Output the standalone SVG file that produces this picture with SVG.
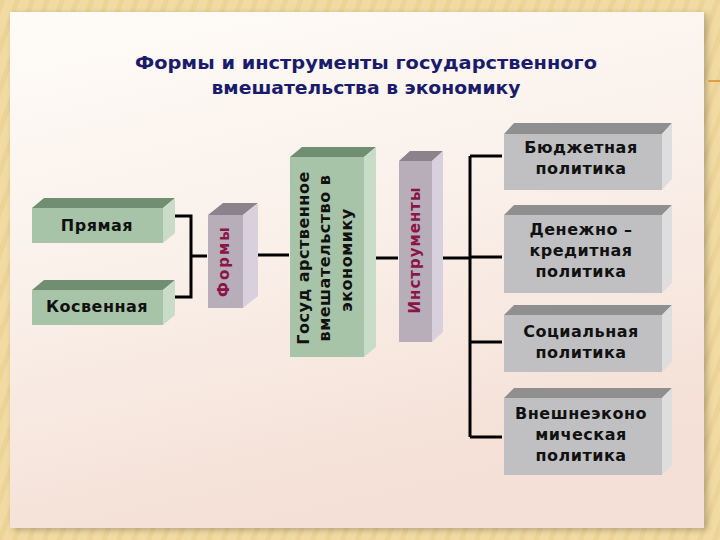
<svg xmlns="http://www.w3.org/2000/svg" width="720" height="540" viewBox="0 0 720 540">
<defs>
  <linearGradient id="panel" x1="0" y1="0" x2="0.3" y2="1">
    <stop offset="0" stop-color="#fefcf8"/>
    <stop offset="0.5" stop-color="#faf0ea"/>
    <stop offset="1" stop-color="#f4e0d6"/>
  </linearGradient>
  <pattern id="wood" width="14" height="14" patternUnits="userSpaceOnUse" patternTransform="rotate(20)">
    <rect width="14" height="14" fill="#f1dba3"/>
    <rect width="5" height="14" fill="#ecd397"/>
  </pattern>
  <filter id="sh" x="-5%" y="-5%" width="110%" height="110%">
    <feGaussianBlur in="SourceAlpha" stdDeviation="3"/>
    <feOffset dx="3" dy="2"/>
    <feComponentTransfer><feFuncA type="linear" slope="0.25"/></feComponentTransfer>
    <feMerge><feMergeNode/><feMergeNode in="SourceGraphic"/></feMerge>
  </filter>
</defs>
<style>
  .t { font-family: "DejaVu Sans", Verdana, sans-serif; font-weight: bold; }
  .title { fill: #1b1b6b; font-size: 18px; text-anchor: middle; }
  .lbl { fill: #111111; font-size: 16px; text-anchor: middle; letter-spacing: 0.5px; }
  .vlbl { fill: #111111; font-size: 16px; text-anchor: middle; letter-spacing: 0.5px; }
  .mag { fill: #8a1546; font-size: 15px; text-anchor: middle; }
  .gf { fill: #a8c4a8; } .gt { fill: #708e72; } .gs { fill: #c8dcc8; }
  .pf { fill: #b7aeb9; } .pt { fill: #8b828c; } .ps { fill: #d8d0dc; }
  .sf { fill: #c0c0c2; } .st { fill: #8f8f90; } .ss { fill: #dedede; }
  .conn path { fill: none; stroke: #000000; stroke-width: 3; }
</style>

<rect x="0" y="0" width="720" height="540" fill="url(#wood)"/>
<rect x="10" y="12" width="694" height="516" fill="url(#panel)" filter="url(#sh)"/>
<line x1="708" y1="81" x2="720" y2="81" stroke="#e0a040" stroke-width="2"/>

<g id="title">
  <text class="t title" x="366" y="69" textLength="462" lengthAdjust="spacingAndGlyphs">Формы и инструменты государственного</text>
  <text class="t title" x="366" y="94" textLength="309" lengthAdjust="spacingAndGlyphs">вмешательства в экономику</text>
</g>

<g class="conn" id="connectors">
  <path d="M175,216 H191 V297 H175"/>
  <path d="M191,256 H207"/>
  <path d="M257,255 H289"/>
  <path d="M376,258 H398"/>
  <path d="M443,258 H470"/>
  <path d="M470,156 V437"/>
  <path d="M470,156 H502"/>
  <path d="M470,257 H502"/>
  <path d="M470,342 H502"/>
  <path d="M470,437 H502"/>
</g>

<g id="pryamaya">
  <polygon class="gt" points="32,208 44,198 175,198 163,208"/>
  <polygon class="gs" points="163,208 175,198 175,233 163,243"/>
  <rect class="gf" x="32" y="208" width="131" height="35"/>
  <text class="t lbl" x="97" y="231">Прямая</text>
</g>

<g id="kosvennaya">
  <polygon class="gt" points="32,290 44,280 175,280 163,290"/>
  <polygon class="gs" points="163,290 175,280 175,315 163,325"/>
  <rect class="gf" x="32" y="290" width="131" height="35"/>
  <text class="t lbl" x="97" y="312">Косвенная</text>
</g>

<g id="formy">
  <polygon class="pt" points="208,215 223,203 258,203 243,215"/>
  <polygon class="ps" points="243,215 258,203 258,296 243,308"/>
  <rect class="pf" x="208" y="215" width="35" height="93"/>
  <text class="t mag" transform="translate(229,261) rotate(-90)" letter-spacing="2">Формы</text>
</g>

<g id="gos">
  <polygon class="gt" points="290,157 302,147 376,147 364,157"/>
  <polygon class="gs" points="364,157 376,147 376,347 364,357"/>
  <rect class="gf" x="290" y="157" width="74" height="200"/>
  <text class="t vlbl" transform="translate(309,258) rotate(-90)">Госуд арственное</text>
  <text class="t vlbl" transform="translate(330,258) rotate(-90)">вмешательство в</text>
  <text class="t vlbl" transform="translate(352,260) rotate(-90)">экономику</text>
</g>

<g id="instrumenty">
  <polygon class="pt" points="399,161 410,151 443,151 432,161"/>
  <polygon class="ps" points="432,161 443,151 443,332 432,342"/>
  <rect class="pf" x="399" y="161" width="33" height="181"/>
  <text class="t mag" transform="translate(420,250) rotate(-90)" letter-spacing="1">Инструменты</text>
</g>

<g id="budget">
  <polygon class="st" points="504,134 514,123 672,123 662,134"/>
  <polygon class="ss" points="662,134 672,123 672,179 662,190"/>
  <rect class="sf" x="504" y="134" width="158" height="56"/>
  <text class="t lbl" x="581" y="153">Бюджетная</text>
  <text class="t lbl" x="581" y="174">политика</text>
</g>

<g id="money">
  <polygon class="st" points="504,215 514,205 672,205 662,215"/>
  <polygon class="ss" points="662,215 672,205 672,283 662,293"/>
  <rect class="sf" x="504" y="215" width="158" height="78"/>
  <text class="t lbl" x="581" y="235">Денежно –</text>
  <text class="t lbl" x="581" y="256">кредитная</text>
  <text class="t lbl" x="581" y="277">политика</text>
</g>

<g id="social">
  <polygon class="st" points="504,315 514,305 672,305 662,315"/>
  <polygon class="ss" points="662,315 672,305 672,362 662,372"/>
  <rect class="sf" x="504" y="315" width="158" height="57"/>
  <text class="t lbl" x="581" y="337">Социальная</text>
  <text class="t lbl" x="581" y="358">политика</text>
</g>

<g id="foreign">
  <polygon class="st" points="504,398 514,388 672,388 662,398"/>
  <polygon class="ss" points="662,398 672,388 672,465 662,475"/>
  <rect class="sf" x="504" y="398" width="158" height="77"/>
  <text class="t lbl" x="581" y="419">Внешнеэконо</text>
  <text class="t lbl" x="581" y="440">мическая</text>
  <text class="t lbl" x="581" y="461">политика</text>
</g>
</svg>
